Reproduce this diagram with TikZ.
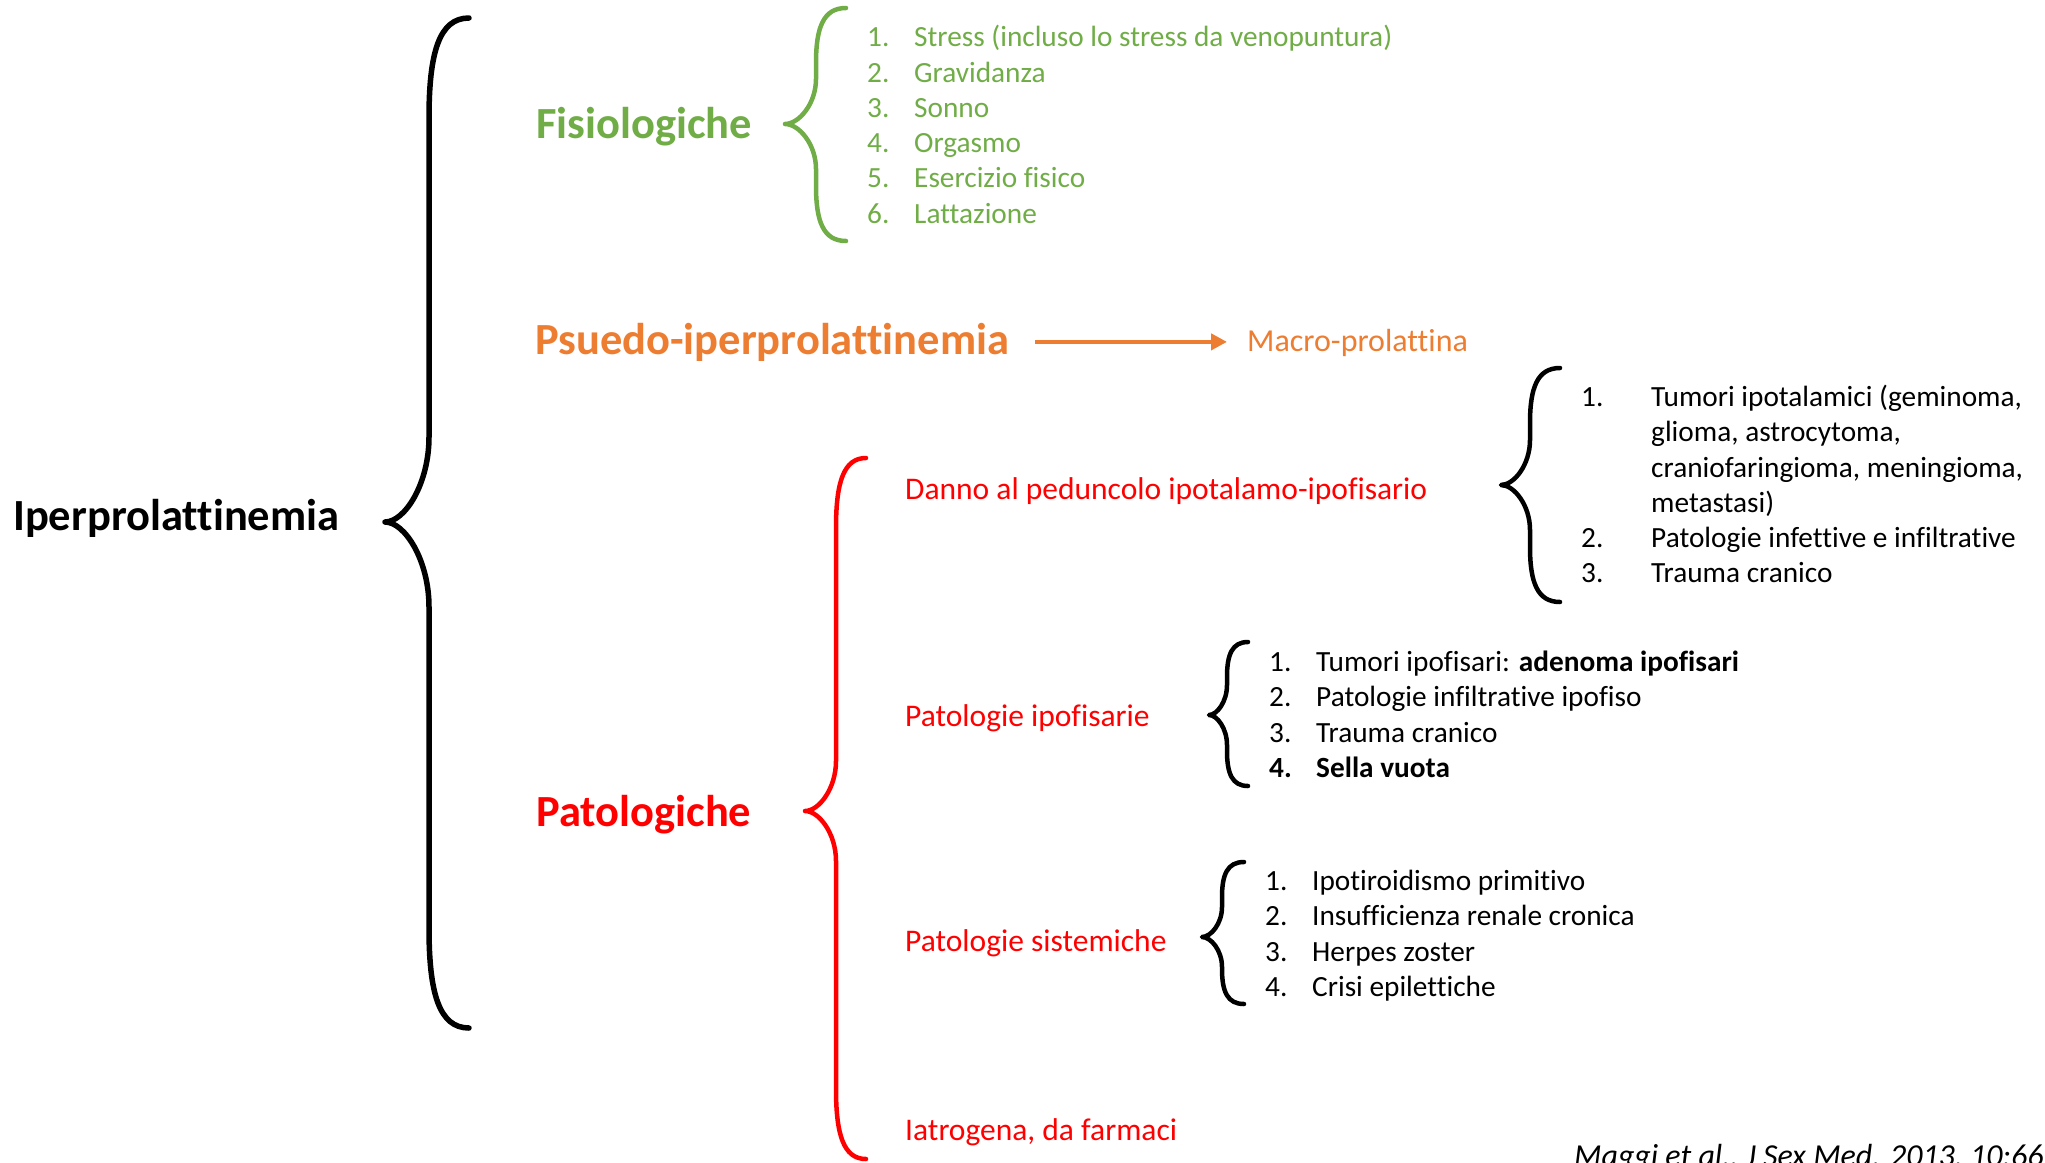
\documentclass[tikz,border=0pt]{standalone}
\usepackage{fontspec}
\setmainfont{Carlito}[Ligatures=NoCommon]
\usetikzlibrary{arrows.meta}
\definecolor{cgreen}{HTML}{70AD47}
\definecolor{corange}{HTML}{ED7D31}
\definecolor{cred}{HTML}{FF0000}
% #1 style, #2 x end, #3 x vertical, #4 x tip, #5 top, #6 mid, #7 bottom, #8 upper curve, #9 inner curve
\newcommand{\drawbrace}[9]{%
  \draw[line width=4.5pt,line cap=round,line join=round,#1]
    (#2,#5) .. controls ({#3+0.25*(#2-#3)},#5) and (#3,{#5+0.35*#8}) .. (#3,{#5+#8})
    -- (#3,{#6-#9}) .. controls (#3,{#6-0.45*#9}) and ({#4+0.45*(#3-#4)},#6) .. (#4,#6)
    .. controls ({#4+0.45*(#3-#4)},#6) and (#3,{#6+0.45*#9}) .. (#3,{#6+#9})
    -- (#3,{#7-#8}) .. controls (#3,{#7-0.35*#8}) and ({#3+0.25*(#2-#3)},#7) .. (#2,#7);}
\begin{document}
\begin{tikzpicture}[x=1pt,y=-1pt,
  lbl/.style={inner sep=0pt, anchor=base west, font=\fontsize{29.3}{35}\selectfont},
  lblb/.style={lbl, font=\fontsize{29.3}{35}\selectfont\bfseries},
  sub/.style={inner sep=0pt, anchor=base west, text=cred, font=\fontsize{31.5}{38}\selectfont},
  big/.style={inner sep=0pt, anchor=base west, font=\fontsize{44.5}{53}\selectfont\bfseries}]
\clip (0,0) rectangle (2045,1162);
\fill[white] (0,0) rectangle (2045,1162);

% main labels
\node[big] (root) at (13,530) {Iperprolattinemia};
\node[big,text=cgreen] (fis) at (536,138) {Fisiologiche};
\node[big,text=corange] (pseudo) at (535,354) {Psuedo-iperprolattinemia};
\node[big,text=cred] (pat) at (536,826) {Patologiche};
\node[inner sep=0pt,anchor=base west,text=corange,font=\fontsize{32}{38}\selectfont] (macro) at (1247,351) {Macro-prolattina};
\draw[corange,line width=4pt,-{Triangle[length=16pt,width=16pt]}]
  ([xshift=26pt]pseudo.east) -- ([xshift=-20pt]pseudo.east -| macro.west);

% braces
\drawbrace{black,line width=5.5pt}{469}{429}{385}{18}{522}{1028}{100}{85}
\drawbrace{cgreen}{846}{816}{785}{8}{124}{241}{55}{45}
\drawbrace{cred}{866}{836}{805}{458}{811}{1159}{70}{50}
\drawbrace{black}{1560}{1530}{1501}{368}{485}{602}{55}{45}
\drawbrace{black}{1248}{1227}{1209}{642}{715}{786}{35}{30}
\drawbrace{black}{1244}{1222}{1202}{862}{937}{1004}{35}{30}

% green list
\begin{scope}[every node/.append style={text=cgreen}]
\node[lbl] (g1n) at (867,46.7) {1.};  \node[lbl] (g1) at (914,46.7) {Stress (incluso lo stress da venopuntura)};
\node[lbl] (g2n) at (867,82.0) {2.};  \node[lbl] (g2) at (914,82.0) {Gravidanza};
\node[lbl] (g3n) at (867,117.3) {3.}; \node[lbl] (g3) at (914,117.3) {Sonno};
\node[lbl] (g4n) at (867,152.6) {4.}; \node[lbl] (g4) at (914,152.6) {Orgasmo};
\node[lbl] (g5n) at (867,187.9) {5.}; \node[lbl] (g5) at (914,187.9) {Esercizio fisico};
\node[lbl] (g6n) at (867,223.2) {6.}; \node[lbl] (g6) at (914,223.2) {Lattazione};
\end{scope}

% red sublabels
\node[sub] (danno) at (905,499) {Danno al peduncolo ipotalamo-ipofisario};
\node[sub] (ipof) at (905,726) {Patologie ipofisarie};
\node[sub] (sist) at (905,951) {Patologie sistemiche};
\node[sub] (iatro) at (905,1140) {Iatrogena, da farmaci};

% list danno
\node[lbl] (d1n) at (1581,406.5) {1.}; \node[lbl] (d1a) at (1651,406.5) {Tumori ipotalamici (geminoma,};
\node[lbl] (d1b) at (1651,441.7) {glioma, astrocytoma,};
\node[lbl] (d1c) at (1651,477) {craniofaringioma, meningioma,};
\node[lbl] (d1d) at (1651,512) {metastasi)};
\node[lbl] (d2n) at (1581,547) {2.}; \node[lbl] (d2) at (1651,547) {Patologie infettive e infiltrative};
\node[lbl] (d3n) at (1581,582.5) {3.}; \node[lbl] (d3) at (1651,582.5) {Trauma cranico};

% list ipofisarie
\node[lbl] (p1n) at (1269,671) {1.}; \node[lbl] (p1) at (1316,671) {Tumori ipofisari: \textbf{adenoma ipofisari}};
\node[lbl] (p2n) at (1269,706) {2.}; \node[lbl] (p2) at (1316,706) {Patologie infiltrative ipofiso};
\node[lbl] (p3n) at (1269,742) {3.}; \node[lbl] (p3) at (1316,742) {Trauma cranico};
\node[lblb] (p4n) at (1269,777) {4.}; \node[lblb] (p4) at (1316,777) {Sella vuota};

% list sistemiche
\node[lbl] (s1n) at (1265,890) {1.}; \node[lbl] (s1) at (1312,890) {Ipotiroidismo primitivo};
\node[lbl] (s2n) at (1265,925.5) {2.}; \node[lbl] (s2) at (1312,925.5) {Insufficienza renale cronica};
\node[lbl] (s3n) at (1265,961) {3.}; \node[lbl] (s3) at (1312,961) {Herpes zoster};
\node[lbl] (s4n) at (1265,996) {4.}; \node[lbl] (s4) at (1312,996) {Crisi epilettiche};

% citation
\node[inner sep=0pt,anchor=base west,font=\fontsize{32}{38}\selectfont\itshape] (cite) at (1574,1166) {Maggi et al., J Sex Med. 2013, 10:661};
\end{tikzpicture}
\end{document}
